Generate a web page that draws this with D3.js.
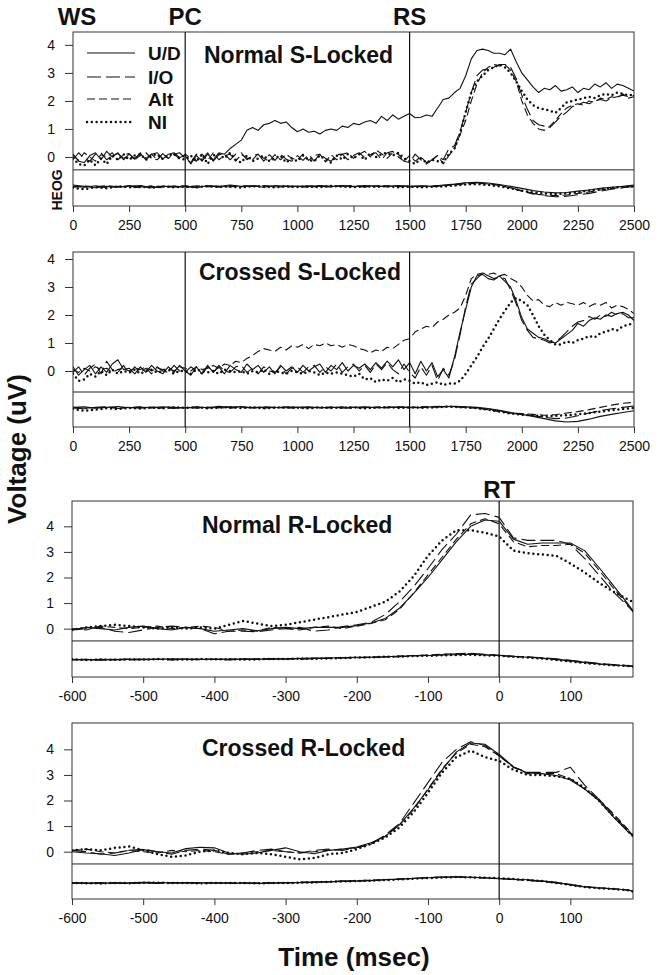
<!DOCTYPE html>
<html><head><meta charset="utf-8">
<script src="https://cdn.jsdelivr.net/npm/d3@7"></script>
<style>body{margin:0;background:#fff}</style>
</head><body>
<svg id="c" width="660" height="975"></svg>
<script>
// ---------- DATA ----------
const seriesNames = ["U/D", "I/O", "Alt", "NI"];
const tS = d3.range(0, 2501, 25);      // S-locked ERP sample times (ms)
const tSH = d3.range(0, 2501, 50);     // S-locked HEOG sample times
const tR = d3.range(-600, 181, 20).concat([188]); // R-locked sample times
const sTicks = [0, 250, 500, 750, 1000, 1250, 1500, 1750, 2000, 2250, 2500];
const rTicks = [-600, -500, -400, -300, -200, -100, 0, 100];
const yTicks = [0, 1, 2, 3, 4];
const sMarkers = [{t: 0, label: "WS"}, {t: 500, label: "PC"}, {t: 1500, label: "RS"}];
const rMarkers = [{t: 0, label: "RT"}];

// Normal S-Locked
const nsUD = [0.1,-0.15,-0.2,0.05,0.15,-0.1,0.2,0.0,0.15,-0.1,
 0.1,-0.05,0.12,-0.1,0.1,0.15,-0.08,0.1,0.15,-0.02,
 0.05,-0.25,0.05,-0.15,0.1,-0.1,0.15,0.1,0.3,0.45,
 0.6,0.95,1.05,0.95,1.15,1.2,1.3,1.2,1.25,1.05,
 0.9,1.0,0.88,0.92,0.82,0.95,1.0,0.95,1.1,1.05,
 1.2,1.15,1.25,1.3,1.2,1.45,1.3,1.5,1.35,1.45,
 1.55,1.4,1.42,1.5,1.45,1.75,2.05,2.1,2.3,2.45,
 2.9,3.5,3.8,3.85,3.8,3.7,3.7,3.65,3.85,3.4,
 3.0,2.75,2.5,2.3,2.45,2.4,2.55,2.35,2.4,2.5,
 2.3,2.45,2.4,2.6,2.5,2.65,2.45,2.6,2.55,2.45,
 2.35];
const nsIO = [-0.1,0.15,-0.05,-0.15,0.1,0.15,-0.1,0.05,0.12,-0.05,
 0.05,-0.08,0.15,-0.05,0.1,-0.1,0.12,-0.05,0.1,0.15,
 -0.05,-0.2,0.1,-0.1,0.15,-0.15,0.08,0.12,-0.1,0.1,
 0.15,-0.1,0.05,0.1,-0.15,0.08,-0.12,0.1,-0.08,-0.15,
 0.05,-0.12,0.08,-0.15,0.1,-0.05,-0.15,0.08,0.1,-0.1,
 0.05,0.15,-0.02,0.08,0.15,-0.1,0.15,0.2,0.0,-0.15,
 -0.2,0.1,-0.1,-0.25,-0.1,0.05,-0.1,0.3,0.4,0.9,
 1.6,2.3,2.9,3.1,3.15,3.2,3.3,3.3,3.2,2.8,
 2.2,1.7,1.3,1.15,1.1,1.05,1.25,1.45,1.6,1.8,
 1.85,1.95,1.9,2.0,2.05,2.0,2.1,2.15,2.2,2.15,
 2.2];
const nsAlt = [0.05,-0.12,0.15,0.0,-0.15,0.08,0.0,0.15,-0.1,0.08,
 0.12,-0.1,0.05,0.15,-0.05,-0.1,0.1,-0.05,0.12,-0.08,
 0.1,-0.05,-0.15,0.1,-0.12,0.15,-0.1,0.05,0.1,-0.15,
 0.1,-0.05,-0.1,0.12,-0.05,-0.15,0.08,-0.1,0.1,-0.05,
 -0.1,0.1,-0.12,0.05,0.1,-0.18,0.08,-0.1,0.1,0.15,
 -0.05,0.1,0.2,0.0,0.25,0.12,-0.05,0.15,0.1,-0.15,
 0.05,-0.15,0.0,-0.2,-0.1,0.05,-0.25,0.05,0.3,0.8,
 1.3,2.0,2.6,3.0,3.2,3.3,3.25,3.3,3.1,2.7,
 2.0,1.5,1.2,1.0,0.95,1.1,1.3,1.55,1.75,1.85,
 1.9,1.85,2.0,1.95,2.1,2.05,2.15,2.1,2.25,2.1,
 2.15];
const nsNI = [-0.05,-0.25,-0.3,-0.1,-0.3,-0.05,-0.25,0.05,-0.1,0.1,
 -0.1,0.05,0.1,-0.1,0.05,0.1,-0.08,0.05,0.1,-0.05,
 -0.1,0.05,-0.15,0.1,-0.25,0.05,0.1,-0.05,0.15,-0.1,
 -0.2,0.05,-0.15,-0.05,0.05,-0.15,-0.05,0.05,-0.2,-0.05,
 -0.15,0.05,-0.1,-0.15,0.05,-0.1,-0.2,0.05,-0.1,0.1,
 -0.05,0.1,-0.1,0.15,0.0,0.1,0.15,0.05,0.15,-0.05,
 -0.15,-0.25,-0.05,-0.2,-0.1,-0.15,-0.2,0.1,0.3,0.85,
 1.6,2.3,2.7,2.9,3.1,3.2,3.3,3.2,3.0,2.7,
 2.35,2.05,1.85,1.75,1.7,1.65,1.57,1.75,1.95,2.0,
 2.05,2.1,2.15,2.1,2.2,2.25,2.2,2.3,2.25,2.2,
 2.22];
const nsHeogUD = [-1.0,-1.05,-1.1,-1.05,-1.08,-1.02,-1.06,-1.1,-1.04,-1.07,
 -1.05,-1.1,-1.02,-1.06,-1.0,-1.05,-1.03,-1.08,-1.02,-1.05,
 -1.04,-1.06,-1.02,-1.05,-1.03,-1.06,-1.02,-1.04,-1.05,-1.02,
 -1.05,-1.03,-1.05,-1.0,-0.97,-0.92,-0.9,-0.93,-0.98,-1.05,
 -1.12,-1.2,-1.25,-1.28,-1.27,-1.22,-1.18,-1.12,-1.08,-1.05,
 -1.0];
const nsHeogIO = [-1.05,-1.08,-1.03,-1.1,-1.05,-1.07,-1.02,-1.06,-1.1,-1.05,
 -1.08,-1.03,-1.06,-1.04,-1.07,-1.02,-1.05,-1.03,-1.07,-1.04,
 -1.06,-1.03,-1.05,-1.07,-1.04,-1.02,-1.06,-1.03,-1.07,-1.05,
 -1.04,-1.06,-1.03,-1.02,-0.98,-0.93,-0.92,-0.95,-1.0,-1.1,
 -1.2,-1.3,-1.38,-1.42,-1.4,-1.35,-1.3,-1.22,-1.15,-1.1,
 -1.05];
const nsHeogAlt = [-1.08,-1.04,-1.06,-1.02,-1.07,-1.05,-1.1,-1.03,-1.06,-1.04,
 -1.03,-1.07,-1.05,-1.08,-1.03,-1.06,-1.04,-1.02,-1.06,-1.07,
 -1.05,-1.08,-1.04,-1.06,-1.02,-1.05,-1.07,-1.04,-1.03,-1.06,
 -1.07,-1.04,-1.06,-1.03,-1.0,-0.96,-0.94,-0.96,-1.02,-1.1,
 -1.22,-1.32,-1.36,-1.38,-1.36,-1.3,-1.25,-1.18,-1.12,-1.08,
 -1.02];
const nsHeogNI = [-1.1,-1.15,-1.08,-1.12,-1.05,-1.08,-1.06,-1.1,-1.05,-1.08,
 -1.06,-1.08,-1.04,-1.07,-1.05,-1.09,-1.04,-1.06,-1.08,-1.05,
 -1.07,-1.05,-1.08,-1.04,-1.06,-1.08,-1.05,-1.07,-1.04,-1.08,
 -1.06,-1.08,-1.06,-1.05,-1.02,-0.98,-0.97,-1.0,-1.05,-1.12,
 -1.2,-1.27,-1.3,-1.32,-1.3,-1.26,-1.2,-1.15,-1.1,-1.07,
 -1.05];

// Crossed S-Locked
const csUD = [0.15,-0.15,0.05,0.2,-0.1,0.15,-0.05,0.25,0.4,0.05,
 0.1,-0.1,0.15,-0.05,0.2,0.0,-0.1,0.15,-0.05,0.2,
 0.0,-0.15,0.15,-0.1,0.2,-0.05,0.15,-0.1,0.2,0.05,
 -0.05,0.25,0.05,0.2,-0.05,0.15,-0.1,0.2,0.0,0.15,
 -0.05,0.2,0.0,0.15,0.25,-0.05,0.2,0.05,0.3,0.0,
 0.2,0.1,0.25,0.05,0.3,0.1,0.35,0.15,0.4,0.05,
 0.3,-0.1,0.35,0.0,0.3,-0.2,0.05,-0.25,0.5,1.4,
 2.2,3.0,3.4,3.45,3.3,3.25,3.4,3.2,3.0,2.5,
 1.9,1.5,1.35,1.2,1.15,1.05,1.0,1.15,1.3,1.45,
 1.7,1.6,1.8,1.9,1.85,2.0,1.95,2.05,2.1,2.0,
 1.8];
const csIO = [-0.05,0.15,-0.15,0.1,0.25,-0.1,0.35,0.05,-0.05,0.2,
 -0.1,0.15,-0.05,0.1,-0.1,0.15,0.0,-0.05,0.2,0.0,
 -0.05,0.15,0.0,-0.1,0.15,-0.05,0.2,0.0,-0.05,0.15,
 0.2,-0.05,0.1,-0.1,0.15,0.0,-0.05,0.15,-0.1,0.1,
 0.15,-0.05,0.15,0.2,-0.05,0.15,0.0,0.25,-0.05,0.15,
 0.25,0.0,0.2,-0.05,0.25,0.05,0.3,0.05,-0.1,0.25,
 -0.05,-0.25,0.15,-0.15,0.2,-0.35,0.1,-0.15,0.4,1.3,
 2.3,3.1,3.3,3.5,3.4,3.3,3.35,3.3,2.9,2.4,
 1.8,1.45,1.2,1.15,1.1,1.0,1.05,1.2,1.4,1.6,
 1.75,1.8,1.95,1.85,2.0,1.95,2.1,2.0,2.05,1.9,
 1.9];
const csAlt = [0.05,-0.05,0.1,0.0,0.15,0.05,0.1,-0.05,0.05,0.1,
 0.0,0.1,0.05,0.15,0.0,0.1,0.05,0.1,0.0,0.15,
 0.1,0.0,0.15,0.05,0.1,0.2,0.1,0.25,0.2,0.35,
 0.3,0.45,0.55,0.7,0.8,0.75,0.7,0.85,0.75,0.9,
 0.85,0.95,0.8,0.95,0.9,1.0,0.9,0.95,0.85,0.95,
 0.9,0.8,0.75,0.65,0.75,0.7,0.85,0.8,0.95,1.1,
 1.15,1.4,1.5,1.6,1.55,1.75,1.85,2.0,2.1,2.25,
 2.7,3.3,3.45,3.5,3.45,3.5,3.4,3.45,3.3,3.2,
 3.0,2.7,2.5,2.55,2.35,2.3,2.45,2.35,2.45,2.4,
 2.35,2.45,2.3,2.4,2.35,2.45,2.25,2.35,2.3,2.2,
 2.05];
const csNI = [-0.1,-0.35,-0.3,-0.1,-0.2,0.0,-0.15,0.05,-0.1,0.0,
 -0.05,0.05,-0.1,0.0,0.05,-0.05,0.0,0.05,-0.1,0.0,
 0.0,-0.1,0.05,0.0,-0.05,0.0,-0.1,0.05,0.0,-0.05,
 0.0,-0.1,0.0,-0.05,0.05,-0.1,0.0,-0.05,-0.1,0.0,
 -0.05,-0.1,0.0,-0.05,-0.15,-0.05,-0.1,-0.05,-0.1,-0.15,
 -0.2,-0.1,-0.3,-0.25,-0.4,-0.3,-0.35,-0.25,-0.4,-0.3,
 -0.35,-0.45,-0.4,-0.5,-0.45,-0.4,-0.5,-0.45,-0.45,-0.35,
 -0.1,0.2,0.5,0.85,1.15,1.5,1.85,2.15,2.45,2.6,
 2.5,2.35,2.0,1.6,1.3,1.1,0.95,0.95,1.05,1.0,
 1.1,1.15,1.25,1.2,1.35,1.4,1.5,1.45,1.6,1.65,
 1.7];
const csHeogUD = [-1.3,-1.28,-1.33,-1.3,-1.27,-1.31,-1.29,-1.32,-1.28,-1.3,
 -1.32,-1.28,-1.31,-1.26,-1.3,-1.27,-1.32,-1.29,-1.31,-1.28,
 -1.3,-1.28,-1.31,-1.29,-1.32,-1.3,-1.28,-1.31,-1.3,-1.29,
 -1.31,-1.3,-1.28,-1.27,-1.26,-1.28,-1.3,-1.34,-1.4,-1.48,
 -1.55,-1.62,-1.7,-1.78,-1.82,-1.8,-1.72,-1.62,-1.55,-1.48,
 -1.42];
const csHeogIO = [-1.32,-1.35,-1.3,-1.28,-1.34,-1.3,-1.33,-1.29,-1.31,-1.34,
 -1.3,-1.33,-1.29,-1.32,-1.28,-1.31,-1.3,-1.33,-1.29,-1.31,
 -1.33,-1.3,-1.32,-1.29,-1.31,-1.33,-1.3,-1.29,-1.32,-1.3,
 -1.29,-1.31,-1.29,-1.28,-1.27,-1.29,-1.32,-1.36,-1.42,-1.5,
 -1.56,-1.6,-1.65,-1.7,-1.68,-1.6,-1.5,-1.42,-1.35,-1.3,
 -1.25];
const csHeogAlt = [-1.3,-1.33,-1.31,-1.29,-1.32,-1.3,-1.28,-1.31,-1.33,-1.3,
 -1.31,-1.29,-1.32,-1.3,-1.33,-1.29,-1.31,-1.28,-1.3,-1.32,
 -1.29,-1.31,-1.3,-1.32,-1.28,-1.3,-1.31,-1.29,-1.3,-1.28,
 -1.3,-1.28,-1.27,-1.26,-1.28,-1.3,-1.33,-1.38,-1.45,-1.5,
 -1.52,-1.55,-1.58,-1.56,-1.5,-1.45,-1.38,-1.3,-1.22,-1.15,
 -1.12];
const csHeogNI = [-1.35,-1.42,-1.38,-1.33,-1.36,-1.32,-1.34,-1.31,-1.33,-1.3,
 -1.32,-1.3,-1.33,-1.31,-1.29,-1.32,-1.3,-1.33,-1.31,-1.3,
 -1.31,-1.33,-1.3,-1.32,-1.31,-1.3,-1.33,-1.31,-1.29,-1.32,
 -1.3,-1.31,-1.3,-1.28,-1.28,-1.3,-1.33,-1.38,-1.45,-1.52,
 -1.56,-1.58,-1.62,-1.6,-1.58,-1.55,-1.5,-1.45,-1.4,-1.36,
 -1.32];

// Normal R-Locked
const nrUD = [-0.05,0.05,0.0,-0.05,0.05,0.1,0.0,-0.05,0.05,0.0,
 -0.1,-0.05,0.0,-0.08,0.0,0.05,0.0,0.05,0.05,0.05,
 0.12,0.22,0.4,0.8,1.38,2.0,2.7,3.4,4.0,4.25,
 4.2,3.5,3.3,3.35,3.35,3.35,3.05,2.4,1.7,1.0,
 0.7];
const nrIO = [-0.05,0.0,0.05,-0.1,-0.15,-0.05,0.05,0.1,0.05,0.0,
 -0.2,-0.1,-0.1,-0.12,-0.05,0.0,0.05,-0.1,-0.05,0.08,
 0.15,0.25,0.55,1.05,1.65,2.35,3.1,3.7,4.45,4.5,
 4.35,3.55,3.45,3.45,3.45,3.3,2.75,2.1,1.45,0.9,
 0.68];
const nrAlt = [0.0,-0.05,0.1,0.05,0.0,0.05,0.1,0.0,0.05,0.1,
 0.05,-0.1,-0.05,-0.1,0.05,0.0,-0.05,0.05,0.1,0.0,
 0.1,0.2,0.35,0.75,1.4,2.1,2.8,3.5,4.1,4.3,
 4.1,3.4,3.2,3.25,3.25,3.3,2.95,2.3,1.6,0.95,
 0.65];
const nrNI = [-0.05,0.05,0.1,0.15,0.1,0.05,0.0,0.05,0.0,0.05,
 0.0,0.15,0.3,0.2,0.1,0.15,0.25,0.35,0.45,0.55,
 0.65,0.85,1.05,1.45,2.05,2.85,3.45,3.85,3.85,3.75,
 3.6,3.05,2.95,2.9,2.85,2.55,2.2,1.8,1.45,1.15,
 1.05];
const nrHeogUD = [-1.2,-1.22,-1.2,-1.21,-1.2,-1.19,-1.2,-1.18,-1.19,-1.2,
 -1.19,-1.2,-1.18,-1.2,-1.17,-1.19,-1.16,-1.15,-1.15,-1.13,
 -1.12,-1.12,-1.1,-1.08,-1.06,-1.05,-1.03,-1.02,-1.0,-1.03,
 -1.05,-1.08,-1.12,-1.15,-1.2,-1.25,-1.32,-1.38,-1.42,-1.45,
 -1.47];
const nrHeogIO = [-1.22,-1.2,-1.23,-1.2,-1.22,-1.21,-1.2,-1.22,-1.2,-1.21,
 -1.2,-1.22,-1.2,-1.19,-1.2,-1.18,-1.19,-1.17,-1.16,-1.15,
 -1.14,-1.13,-1.11,-1.1,-1.07,-1.04,-1.02,-0.98,-0.96,-1.0,
 -1.04,-1.08,-1.1,-1.14,-1.18,-1.24,-1.3,-1.36,-1.4,-1.44,
 -1.46];
const nrHeogAlt = [-1.21,-1.2,-1.22,-1.21,-1.19,-1.21,-1.2,-1.21,-1.19,-1.2,
 -1.21,-1.19,-1.2,-1.18,-1.19,-1.17,-1.18,-1.16,-1.15,-1.14,
 -1.13,-1.11,-1.1,-1.07,-1.05,-1.03,-1.0,-0.97,-0.98,-1.02,
 -1.05,-1.09,-1.11,-1.16,-1.21,-1.27,-1.33,-1.38,-1.43,-1.46,
 -1.48];
const nrHeogNI = [-1.2,-1.23,-1.21,-1.22,-1.2,-1.21,-1.19,-1.2,-1.21,-1.19,
 -1.2,-1.19,-1.21,-1.2,-1.18,-1.19,-1.17,-1.18,-1.16,-1.15,
 -1.13,-1.12,-1.1,-1.09,-1.07,-1.06,-1.04,-1.03,-1.02,-1.04,
 -1.06,-1.1,-1.13,-1.17,-1.22,-1.28,-1.34,-1.39,-1.43,-1.46,
 -1.48];

// Crossed R-Locked
const crUD = [0.0,-0.05,-0.08,-0.15,-0.05,0.08,0.0,-0.05,0.12,0.17,
 0.15,-0.05,-0.1,-0.05,0.05,0.15,0.0,-0.08,0.05,0.1,
 0.18,0.35,0.6,1.05,1.7,2.42,3.2,3.9,4.25,4.2,
 3.8,3.32,3.08,3.05,2.98,2.8,2.45,2.0,1.37,0.8,
 0.62];
const crIO = [0.05,0.0,-0.1,-0.05,0.05,0.1,0.0,-0.1,0.05,0.1,
 0.05,-0.1,-0.05,0.05,0.1,0.0,-0.05,0.05,0.1,0.05,
 0.15,0.3,0.65,1.1,1.9,2.7,3.5,4.0,4.3,4.15,
 3.75,3.3,3.1,3.1,3.1,3.3,2.6,2.05,1.45,0.85,
 0.65];
const crAlt = [0.05,0.1,0.0,-0.05,0.05,0.0,-0.05,0.05,0.0,0.05,
 0.0,-0.1,-0.05,0.0,0.05,0.0,-0.05,0.0,0.05,0.1,
 0.15,0.3,0.6,1.05,1.65,2.45,3.25,3.85,4.2,4.1,
 3.75,3.3,3.05,3.05,3.05,2.85,2.45,2.05,1.5,0.9,
 0.65];
const crNI = [0.05,0.1,0.05,0.15,0.2,0.05,-0.1,-0.2,-0.15,0.0,
 0.05,-0.05,-0.1,-0.05,-0.1,-0.2,-0.3,-0.25,-0.1,-0.05,
 0.1,0.3,0.55,0.95,1.55,2.3,3.1,3.7,3.95,3.7,
 3.55,3.2,3.0,3.0,2.95,2.85,2.5,2.0,1.4,0.85,
 0.6];
const crHeogUD = [-1.22,-1.23,-1.22,-1.24,-1.22,-1.2,-1.21,-1.22,-1.21,-1.22,
 -1.22,-1.23,-1.23,-1.24,-1.23,-1.22,-1.21,-1.2,-1.18,-1.16,
 -1.15,-1.13,-1.1,-1.08,-1.05,-1.02,-1.0,-0.98,-1.0,-1.02,
 -1.05,-1.08,-1.1,-1.15,-1.2,-1.3,-1.38,-1.42,-1.45,-1.5,
 -1.55];
const crHeogIO = [-1.24,-1.22,-1.23,-1.21,-1.23,-1.22,-1.24,-1.22,-1.23,-1.21,
 -1.23,-1.22,-1.24,-1.22,-1.23,-1.21,-1.2,-1.19,-1.17,-1.15,
 -1.14,-1.12,-1.1,-1.07,-1.04,-1.01,-0.99,-0.98,-1.0,-1.03,
 -1.06,-1.08,-1.12,-1.16,-1.22,-1.28,-1.36,-1.42,-1.46,-1.5,
 -1.54];
const crHeogAlt = [-1.23,-1.24,-1.22,-1.23,-1.24,-1.22,-1.23,-1.21,-1.22,-1.23,
 -1.21,-1.24,-1.22,-1.23,-1.22,-1.21,-1.2,-1.18,-1.17,-1.15,
 -1.13,-1.12,-1.09,-1.07,-1.05,-1.02,-1.0,-0.99,-1.01,-1.03,
 -1.05,-1.09,-1.11,-1.15,-1.2,-1.29,-1.37,-1.41,-1.45,-1.49,
 -1.53];
const crHeogNI = [-1.22,-1.23,-1.24,-1.22,-1.23,-1.22,-1.21,-1.23,-1.22,-1.24,
 -1.22,-1.23,-1.22,-1.24,-1.22,-1.23,-1.21,-1.2,-1.18,-1.16,
 -1.15,-1.13,-1.11,-1.08,-1.06,-1.03,-1.01,-0.99,-1.0,-1.02,
 -1.04,-1.07,-1.11,-1.15,-1.22,-1.3,-1.38,-1.43,-1.46,-1.5,
 -1.56];

// ---------- LAYOUT ----------
const panels = [
  {title: "Normal S-Locked", titleX: 204, titleY: 63, left: 73, right: 634, top: 32, bottom: 206,
   yDom: [-1.75, 4.46], sep: -0.46, xDom: [0, 2500], ticks: sTicks, markers: sMarkers, markerLabels: true, labelY: 25,
   t: tS, tH: tSH, erp: [nsUD, nsIO, nsAlt, nsNI], heog: [nsHeogUD, nsHeogIO, nsHeogAlt, nsHeogNI], legend: true, heogLabel: true},
  {title: "Crossed S-Locked", titleX: 199, titleY: 280, left: 73, right: 634, top: 252, bottom: 427,
   yDom: [-2.0, 4.25], sep: -0.75, xDom: [0, 2500], ticks: sTicks, markers: sMarkers, markerLabels: false,
   t: tS, tH: tSH, erp: [csUD, csIO, csAlt, csNI], heog: [csHeogUD, csHeogIO, csHeogAlt, csHeogNI]},
  {title: "Normal R-Locked", titleX: 202, titleY: 533, left: 72, right: 633, top: 501, bottom: 677,
   yDom: [-1.89, 4.99], sep: -0.48, xDom: [-600, 188], ticks: rTicks, markers: rMarkers, markerLabels: true, labelY: 498,
   t: tR, tH: tR, erp: [nrUD, nrIO, nrAlt, nrNI], heog: [nrHeogUD, nrHeogIO, nrHeogAlt, nrHeogNI]},
  {title: "Crossed R-Locked", titleX: 202, titleY: 756, left: 72, right: 633, top: 723, bottom: 899,
   yDom: [-1.85, 5.03], sep: -0.48, xDom: [-600, 188], ticks: rTicks, markers: rMarkers, markerLabels: false,
   t: tR, tH: tR, erp: [crUD, crIO, crAlt, crNI], heog: [crHeogUD, crHeogIO, crHeogAlt, crHeogNI]}
];

const styles = [
  {dash: null, width: 1.1, cap: "butt"},
  {dash: "14,5", width: 1.1, cap: "butt"},
  {dash: "8,4", width: 1.1, cap: "butt"},
  {dash: "0,4.8", width: 2.5, cap: "round"}
];

const FONT = "'Liberation Sans', Arial, Helvetica, sans-serif";
const ink = "#111";
const svg = d3.select("#c").style("font-family", FONT);
const fmt = d => String(d);

panels.forEach((p, pi) => {
  const x = d3.scaleLinear().domain(p.xDom).range([p.left, p.right]);
  const y = d3.scaleLinear().domain(p.yDom).range([p.bottom, p.top]);
  const g = svg.append("g");
  const clipId = "clip" + pi;
  svg.append("clipPath").attr("id", clipId).append("rect")
    .attr("x", p.left).attr("y", p.top).attr("width", p.right - p.left).attr("height", p.bottom - p.top);

  g.append("rect").attr("x", p.left).attr("y", p.top).attr("width", p.right - p.left).attr("height", p.bottom - p.top)
    .attr("fill", "none").attr("stroke", "#333").attr("stroke-width", 1);
  g.append("line").attr("x1", p.left).attr("x2", p.right).attr("y1", y(p.sep)).attr("y2", y(p.sep))
    .attr("stroke", "#222").attr("stroke-width", 1);
  p.markers.forEach(m => {
    if (m.t > p.xDom[0]) {
      g.append("line").attr("x1", x(m.t)).attr("x2", x(m.t)).attr("y1", p.top).attr("y2", p.bottom)
        .attr("stroke", ink).attr("stroke-width", 1.2);
    }
    if (p.markerLabels) {
      svg.append("text").attr("x", x(m.t) + (m.t === p.xDom[0] ? 4 : 0)).attr("y", p.labelY)
        .attr("text-anchor", "middle").attr("font-size", 24).attr("font-weight", "bold").attr("fill", ink).text(m.label);
    }
  });

  const yAx = g.append("g").attr("transform", `translate(${p.left},0)`)
    .call(d3.axisLeft(y).tickValues(yTicks).tickSize(8).tickPadding(10).tickFormat(fmt));
  yAx.select(".domain").remove();
  yAx.selectAll("text").attr("font-size", 14).attr("font-family", FONT).attr("fill", ink);
  yAx.selectAll("line").attr("stroke", "#333");
  const xAx = g.append("g").attr("transform", `translate(0,${p.bottom})`)
    .call(d3.axisBottom(x).tickValues(p.ticks).tickSize(6).tickPadding(8).tickFormat(fmt));
  xAx.select(".domain").remove();
  xAx.selectAll("text").attr("font-size", 14).attr("font-family", FONT).attr("fill", ink);
  xAx.selectAll("line").attr("stroke", "#333");

  const lineGen = d3.line().x(d => x(d[0])).y(d => y(d[1]));
  const traces = g.append("g").attr("clip-path", `url(#${clipId})`);
  const drawSet = (sets, times) => sets.forEach((vals, si) => {
    const pts = vals.map((v, i) => [times[i], v]).filter(d => d[0] !== undefined);
    const s = styles[si];
    traces.append("path").datum(pts).attr("d", lineGen).attr("fill", "none").attr("stroke", ink)
      .attr("stroke-width", s.width).attr("stroke-dasharray", s.dash).attr("stroke-linecap", s.cap)
      .attr("stroke-linejoin", "round");
  });
  drawSet(p.erp, p.t);
  drawSet(p.heog, p.tH);

  svg.append("text").attr("x", p.titleX).attr("y", p.titleY).attr("font-size", 23).attr("font-weight", "bold")
    .attr("fill", ink).text(p.title);

  if (p.legend) {
    const ly = [53, 77, 99, 122];
    seriesNames.forEach((name, si) => {
      const s = styles[si];
      svg.append("line").attr("x1", 87).attr("x2", 135).attr("y1", ly[si]).attr("y2", ly[si])
        .attr("stroke", ink).attr("stroke-width", s.width).attr("stroke-dasharray", s.dash).attr("stroke-linecap", s.cap);
      svg.append("text").attr("x", 148).attr("y", ly[si] + 7).attr("font-size", 19).attr("font-weight", "bold")
        .attr("fill", ink).text(name);
    });
  }
  if (p.heogLabel) {
    svg.append("text").attr("transform", `translate(62,${(y(p.sep) + p.bottom) / 2 + 2}) rotate(-90)`)
      .attr("text-anchor", "middle").attr("font-size", 14).attr("font-weight", "bold").attr("fill", ink).text("HEOG");
  }
});

svg.append("text").attr("transform", "translate(26,449) rotate(-90)").attr("text-anchor", "middle")
  .attr("font-size", 26).attr("font-weight", "bold").attr("fill", ink).text("Voltage (uV)");
svg.append("text").attr("x", 354).attr("y", 966).attr("text-anchor", "middle")
  .attr("font-size", 26).attr("font-weight", "bold").attr("fill", ink).text("Time (msec)");
</script>
</body></html>
